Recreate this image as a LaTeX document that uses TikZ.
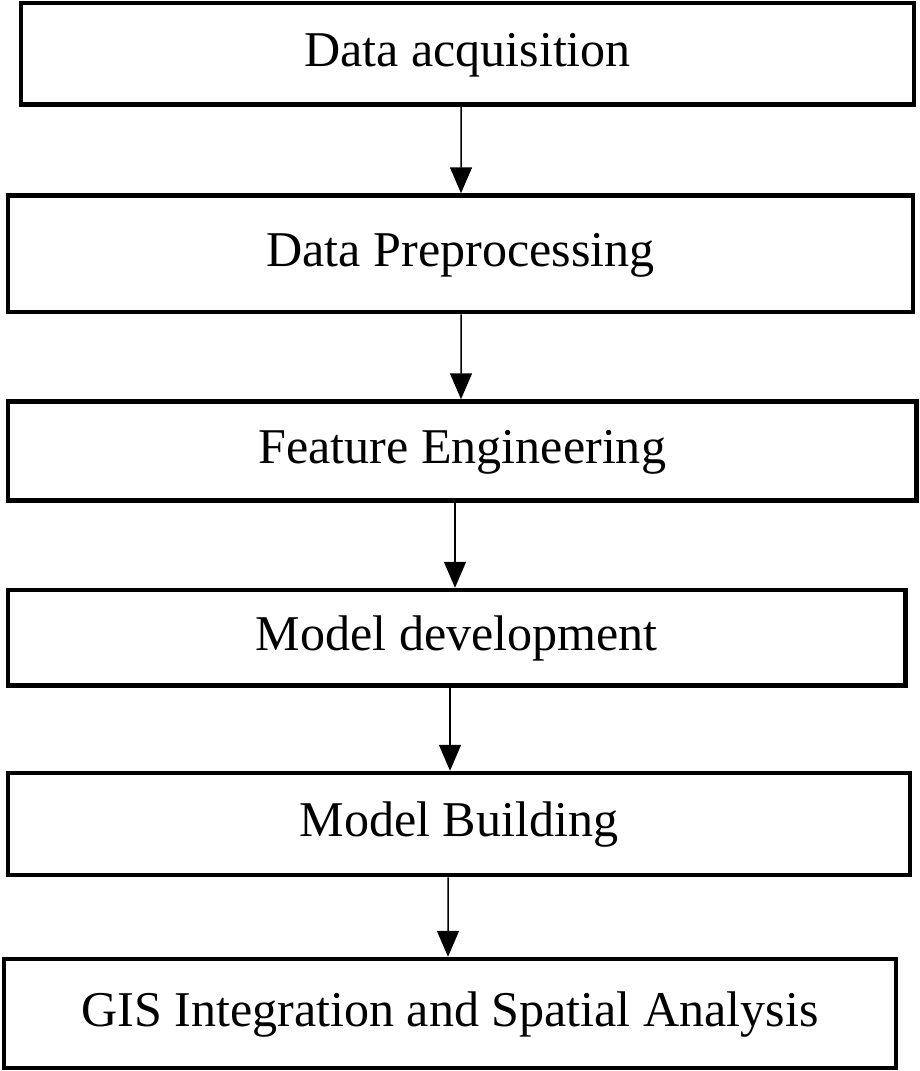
\documentclass[tikz,border=0pt]{standalone}
\usepackage{fontspec}
\setmainfont{Liberation Serif}
\usetikzlibrary{arrows.meta}

\begin{document}
\begin{tikzpicture}[>={Triangle[length=0.52cm,width=0.44cm]},
  stage/.style={draw,line width=0.09cm,text height=0.72cm,text depth=0.21cm,font=\fontsize{28.5}{34}\selectfont},
  flow/.style={->,line width=0.03cm}]
\useasboundingbox (0,0) rectangle (18.38,-21.42);
\node[stage,minimum width=17.86cm,minimum height=2.03cm](acq) at (9.35,-1.075){Data acquisition};
\node[stage,minimum width=18.10cm,minimum height=2.33cm](pre) at (9.21,-5.075){Data Preprocessing};
\node[stage,minimum width=18.17cm,minimum height=1.98cm](feat) at (9.245,-9.02){Feature Engineering};
\node[stage,minimum width=17.95cm,minimum height=1.91cm](dev) at (9.135,-12.755){Model development};
\node[stage,minimum width=18.04cm,minimum height=2.04cm](build) at (9.18,-16.48){Model Building};
\node[stage,minimum width=17.84cm,minimum height=2.18cm](gis) at (9.0,-20.27){GIS Integration and Spatial Analysis};
\draw[flow]([xshift=-0.13cm]acq.south)--([xshift=0.01cm]pre.north);
\draw[flow]([xshift=0.01cm]pre.south)--([xshift=-0.025cm]feat.north);
\draw[flow]([xshift=-0.145cm]feat.south)--([xshift=-0.035cm]dev.north);
\draw[flow]([xshift=-0.135cm]dev.south)--([xshift=-0.18cm]build.north);
\draw[flow]([xshift=-0.22cm]build.south)--([xshift=-0.04cm]gis.north);
\end{tikzpicture}
\end{document}
